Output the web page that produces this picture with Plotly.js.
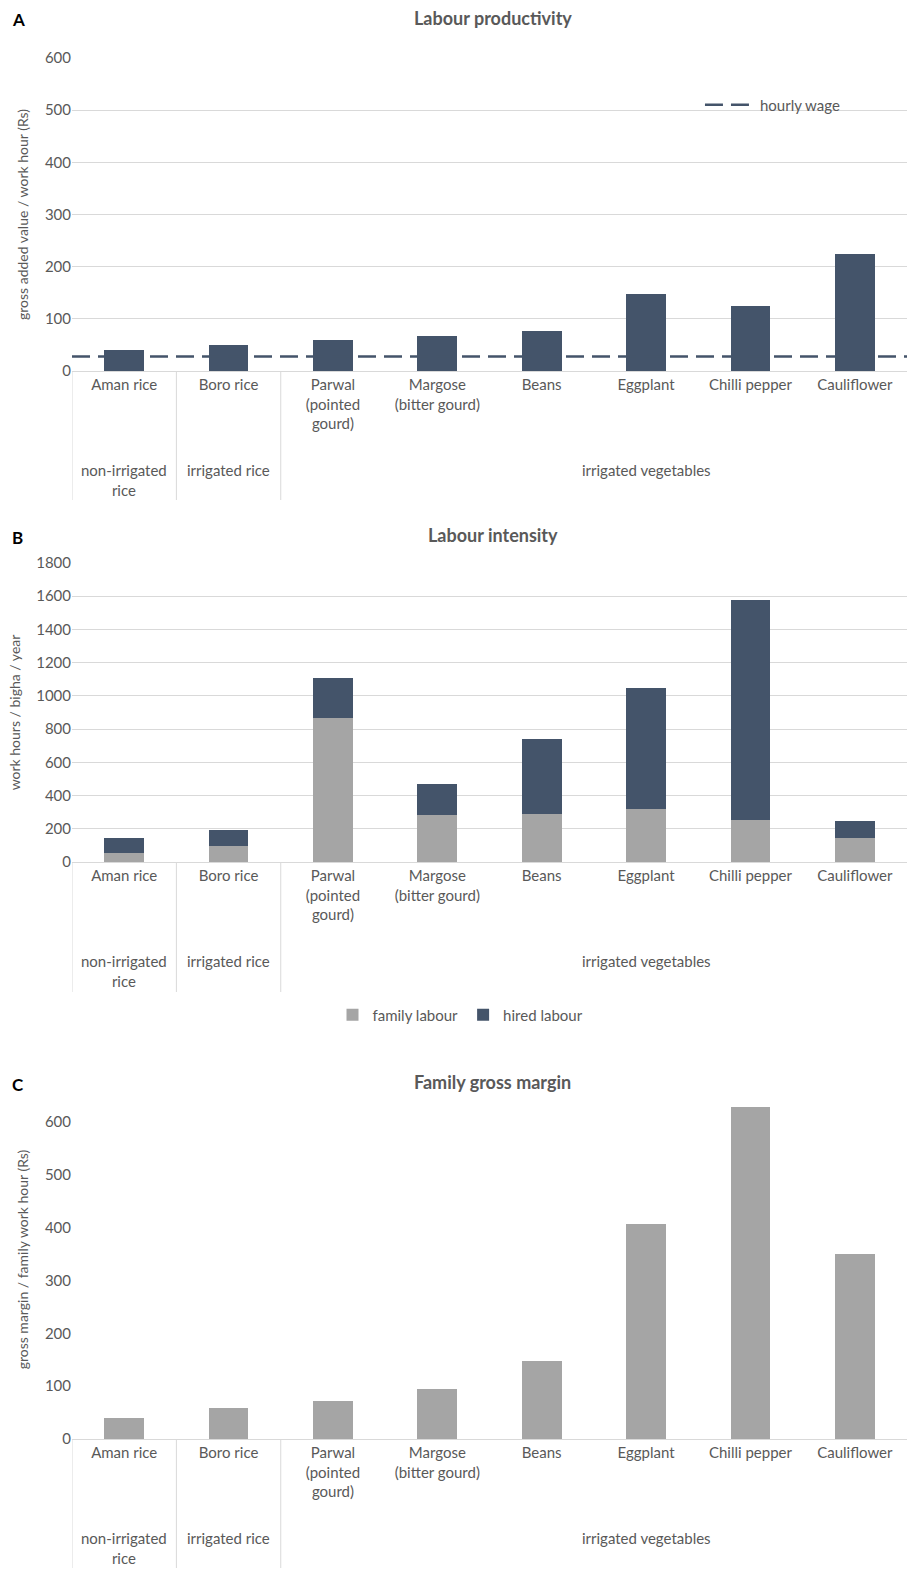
<!DOCTYPE html>
<html><head><meta charset="utf-8">
<script src="https://cdn.plot.ly/plotly-3.0.1.min.js"></script>
<style>body{margin:0;overflow:hidden}#chart{width:921px;height:1595px}</style>
</head><body><div id="chart"></div>
<script>
// categories
const crops = ["Aman rice", "Boro rice", "Parwal<br>(pointed<br>gourd)", "Margose<br>(bitter gourd)", "Beans", "Eggplant", "Chilli pepper", "Cauliflower"];
const groups = ["non-irrigated<br>rice", "irrigated rice", "irrigated vegetables"];
const groupCenters = [0, 1, 5];
const groupBounds = [-0.5, 0.5, 1.5];

// A: gross added value / work hour
const productivity = [40, 50, 60, 68, 77, 147, 125, 225];
const hourlyWage = 28;
// B: work hours / bigha / year
const familyHours = [55, 95, 865, 280, 290, 320, 255, 145];
const hiredHours = [90, 100, 245, 190, 450, 725, 1325, 100];
// C: gross margin / family work hour
const familyMargin = [40, 58, 72, 95, 148, 408, 628, 350];

const idx = crops.map((c, i) => i);
const navy = "#44546a", grey = "#a5a5a5", txt = "#595959";
const H = 1595;
const py = p => 1 - p / H;

const traces = [
  {x: idx, y: productivity, type: "bar", marker: {color: navy}, width: 0.38, xaxis: "x", yaxis: "y", showlegend: false},
  {x: [-0.5, 7.5], y: [hourlyWage, hourlyWage], mode: "lines", name: "hourly wage", line: {color: navy, dash: "18px,8px", width: 2.5}, xaxis: "x", yaxis: "y", legend: "legend"},
  {x: idx, y: familyHours, type: "bar", name: "family labour", marker: {color: grey}, width: 0.38, xaxis: "x2", yaxis: "y2", legend: "legend2"},
  {x: idx, y: hiredHours, type: "bar", name: "hired labour", marker: {color: navy}, width: 0.38, xaxis: "x2", yaxis: "y2", legend: "legend2"},
  {x: idx, y: familyMargin, type: "bar", marker: {color: grey}, width: 0.38, xaxis: "x3", yaxis: "y3", showlegend: false}
];

const xDom = [72 / 921, 907 / 921];
function xa(anchor) {
  return {domain: xDom, range: [-0.5, 7.5], tickvals: idx, ticktext: crops, ticks: "", anchor: anchor,
    showline: true, linecolor: "#d9d9d9", showgrid: false, zeroline: false, fixedrange: true,
    tickfont: {size: 15, color: txt}};
}
function ya(anchor, dom, range, dtick, title, grid) {
  return {domain: dom, range: range, dtick: dtick, anchor: anchor, showgrid: grid, gridcolor: "#d9d9d9",
    zeroline: false, showline: false, tickfont: {size: 15, color: txt},
    title: {text: title, font: {size: 14, color: txt}, standoff: 12}};
}

const panels = [
  {ax: "x", bot: 371, lineEnd: 500, group: 470, title: "Labour productivity", letter: "A", ty: 18},
  {ax: "x2", bot: 862, lineEnd: 992, group: 961, title: "Labour intensity", letter: "B", ty: 535},
  {ax: "x3", bot: 1439, lineEnd: 1568, group: 1538, title: "Family gross margin", letter: "C", ty: 1082}
];

const shapes = [], annotations = [];
panels.forEach(p => {
  groupBounds.forEach(b => shapes.push({type: "line", xref: p.ax, yref: "paper", x0: b, x1: b,
    y0: py(p.bot), y1: py(p.lineEnd), line: {color: "#d9d9d9", width: 1}}));
  groups.forEach((g, i) => annotations.push({text: g, xref: p.ax, yref: "paper", x: groupCenters[i],
    y: py(p.group), yanchor: i === 0 ? "top" : "middle", yshift: i === 0 ? 11 : 0, showarrow: false, font: {size: 15, color: txt}}));
  annotations.push({text: "<b>" + p.title + "</b>", xref: "paper", yref: "paper", x: 0.535, y: py(p.ty),
    yanchor: "middle", showarrow: false, font: {size: 18, color: txt}});
  annotations.push({text: "<b>" + p.letter + "</b>", xref: "paper", yref: "paper", x: 10 / 921, y: py(p.ty + 2),
    xanchor: "left", yanchor: "middle", showarrow: false, font: {size: 17, color: "#000"}});
});

const layout = {
  width: 921, height: 1595, margin: {l: 0, r: 0, t: 0, b: 0},
  paper_bgcolor: "#fff", plot_bgcolor: "#fff", barmode: "stack",
  font: {family: "Lato, 'Open Sans', sans-serif", color: txt},
  xaxis: xa("y"), xaxis2: xa("y2"), xaxis3: xa("y3"),
  yaxis: ya("x", [py(371), py(58)], [0, 600], 100, "gross added value / work hour (Rs)", true),
  yaxis2: ya("x2", [py(862), py(563)], [0, 1800], 200, "work hours / bigha / year", true),
  yaxis3: ya("x3", [py(1439), py(1080)], [0, 680], 100, "gross margin / family work hour (Rs)", false),
  legend: {x: 0.76, y: py(105), yanchor: "middle", bgcolor: "rgba(0,0,0,0)", itemwidth: 50, font: {size: 15, color: txt}},
  legend2: {orientation: "h", x: 0.5, xanchor: "center", y: py(1015), yanchor: "middle", traceorder: "normal",
    font: {size: 15, color: txt}},
  shapes: shapes, annotations: annotations
};

Plotly.newPlot("chart", traces, layout, {displayModeBar: false, staticPlot: true});
</script></body></html>
